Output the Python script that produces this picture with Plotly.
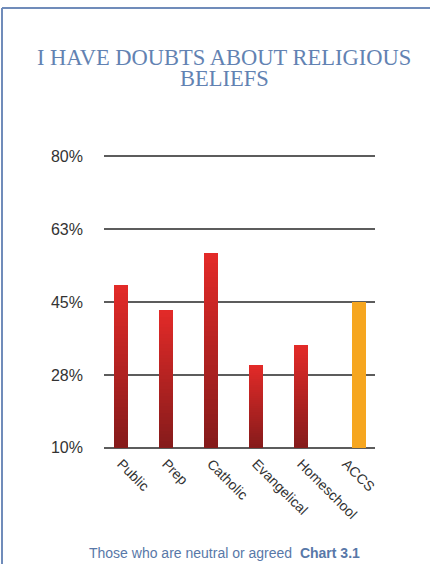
import plotly.graph_objects as go

categories = ["Public", "Prep", "Catholic", "Evangelical", "Homeschool", "ACCS"]
values = [49.1, 43.1, 56.8, 30.0, 34.7, 45.0]
tick_values = [10, 27.5, 45, 62.5, 80]
tick_labels = ["10%", "28%", "45%", "63%", "80%"]
title_lines = ["I HAVE DOUBTS ABOUT RELIGIOUS", "BELIEFS"]
footer_text = "Those who are neutral or agreed  <b>Chart 3.1</b>"

W, H = 430, 564
ML, MR, MT, MB = 104, 55, 152, 112
PW, PH = W - ML - MR, H - MT - MB
Y_RANGE = [9, 81]
BASE = 10


def px_x(p):
    return (p - ML) / PW


def px_y(p):
    return (H - MB - p) / PH


N = 40
top_rgb = (226, 42, 40)
bot_rgb = (134, 27, 27)

fig = go.Figure()
red_cats = categories[:5]
red_vals = values[:5]
for i in range(N):
    t = i / (N - 1)
    c = tuple(round(bot_rgb[k] + (top_rgb[k] - bot_rgb[k]) * t) for k in range(3))
    bases = [BASE + i * (v - BASE) / N for v in red_vals]
    fig.add_trace(go.Bar(
        x=red_cats,
        y=[v - b for v, b in zip(red_vals, bases)],
        base=bases,
        width=0.31,
        marker=dict(color="rgb(%d,%d,%d)" % c, line=dict(width=0)),
        showlegend=False, hoverinfo="skip",
    ))

fig.add_trace(go.Bar(
    x=categories[5:],
    y=[v - BASE for v in values[5:]],
    base=[BASE for _ in values[5:]],
    width=0.31,
    offset=0.135,
    marker=dict(color="#f6a61f", line=dict(width=0)),
    showlegend=False, hoverinfo="skip",
))

border = "rgb(112,140,186)"
title_font = dict(family="Liberation Serif, Times New Roman", size=22.5, color="#6282b2")
annotations = [
    dict(text=line, xref="paper", yref="paper",
         x=px_x(224), y=px_y(yc), xanchor="center", yanchor="middle",
         showarrow=False, font=title_font)
    for line, yc in zip(title_lines, [57.5, 79])
]
annotations.append(
    dict(text=footer_text, xref="paper", yref="paper",
         x=px_x(224), y=px_y(553), xanchor="center", yanchor="middle",
         showarrow=False,
         font=dict(family="Liberation Sans, Arial", size=14, color="#5878a8"))
)

fig.update_layout(
    width=W, height=H,
    margin=dict(l=ML, r=MR, t=MT, b=MB),
    paper_bgcolor="white", plot_bgcolor="white",
    barmode="overlay",
    bargap=0,
    xaxis=dict(
        type="category", categoryorder="array", categoryarray=categories,
        range=[-0.38, 5.64], showgrid=False, showline=False, zeroline=False,
        ticks="", tickangle=45,
        tickfont=dict(family="Liberation Sans, Arial", size=14, color="#333333"),
    ),
    yaxis=dict(
        range=Y_RANGE, tickvals=tick_values, ticktext=tick_labels,
        showgrid=True, gridcolor="#5c5c5c", gridwidth=1.6,
        zeroline=False, showline=False, ticks="",
        ticklabelstandoff=20,
        tickfont=dict(family="Liberation Sans, Arial", size=16, color="#333333"),
    ),
    shapes=[
        dict(type="line", xref="paper", yref="paper",
             x0=px_x(2), x1=px_x(431), y0=px_y(8), y1=px_y(8),
             line=dict(color=border, width=2)),
        dict(type="line", xref="paper", yref="paper",
             x0=px_x(2), x1=px_x(2), y0=px_y(8), y1=px_y(565),
             line=dict(color=border, width=2)),
    ],
    annotations=annotations,
)

fig.write_html(
    "out.html",
    config={"displayModeBar": False},
    post_script="document.body.style.margin='0';document.body.style.overflow='hidden';",
)
